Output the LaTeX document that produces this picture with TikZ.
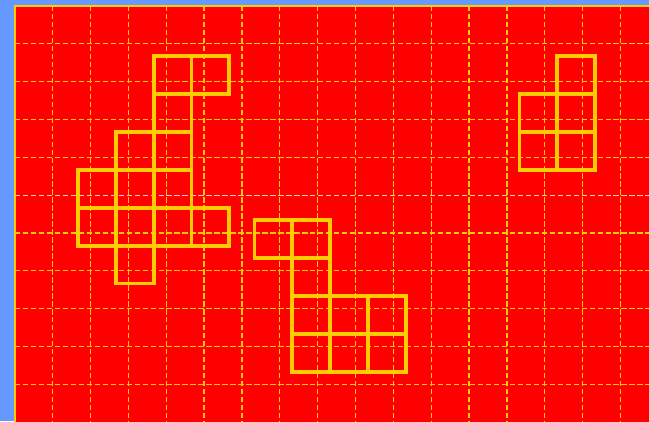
\documentclass[tikz,border=0pt]{standalone}
\definecolor{bgblue}{RGB}{102,153,255}
\definecolor{boardred}{RGB}{255,0,0}
\definecolor{gold}{RGB}{255,204,0}
\definecolor{palepink}{RGB}{255,200,200}
\begin{document}
\begin{tikzpicture}[y=-1cm,
  board/.style={fill=boardred, draw=gold, line width=1.5pt},
  gridline/.style={draw=gold, line width=0.9pt, dash pattern=on 4pt off 2pt},
  cell/.style={draw=gold, line width=2.9pt}]
  \fill[bgblue] (-0.392,-0.155) rectangle (16.754,10.968);
  \useasboundingbox (-0.392,-0.155) rectangle (16.754,10.968);
  \clip (-0.392,-0.155) rectangle (16.754,10.968);
  \draw[board] (0,0) rectangle (17.5,11.5);
  % dashed grid
  \foreach \x in {1,...,16}
    \draw[gridline] (\x,0) -- (\x,11.5);
  \foreach \y in {1,...,4,6,7,8,9,10}
    \draw[gridline] (0,\y) -- (17.5,\y);
  \draw[gridline, draw=palepink] (0,5) -- (17.5,5);
  % left figure
  \foreach \c/\r in {2/0,3/0,2/1,1/2,2/2,0/3,1/3,2/3,0/4,1/4,2/4,3/4,1/5}
    \draw[cell] ({5/3+\c},{4/3+\r}) rectangle +(1,1);
  % middle figure
  \foreach \c/\r in {0/0,1/0,1/1,1/2,2/2,3/2,1/3,2/3,3/3}
    \draw[cell] ({19/3+\c},{17/3+\r}) rectangle +(1,1);
  % right figure
  \foreach \c/\r in {1/0,0/1,1/1,0/2,1/2}
    \draw[cell] ({40/3+\c},{4/3+\r}) rectangle +(1,1);
\end{tikzpicture}
\end{document}
